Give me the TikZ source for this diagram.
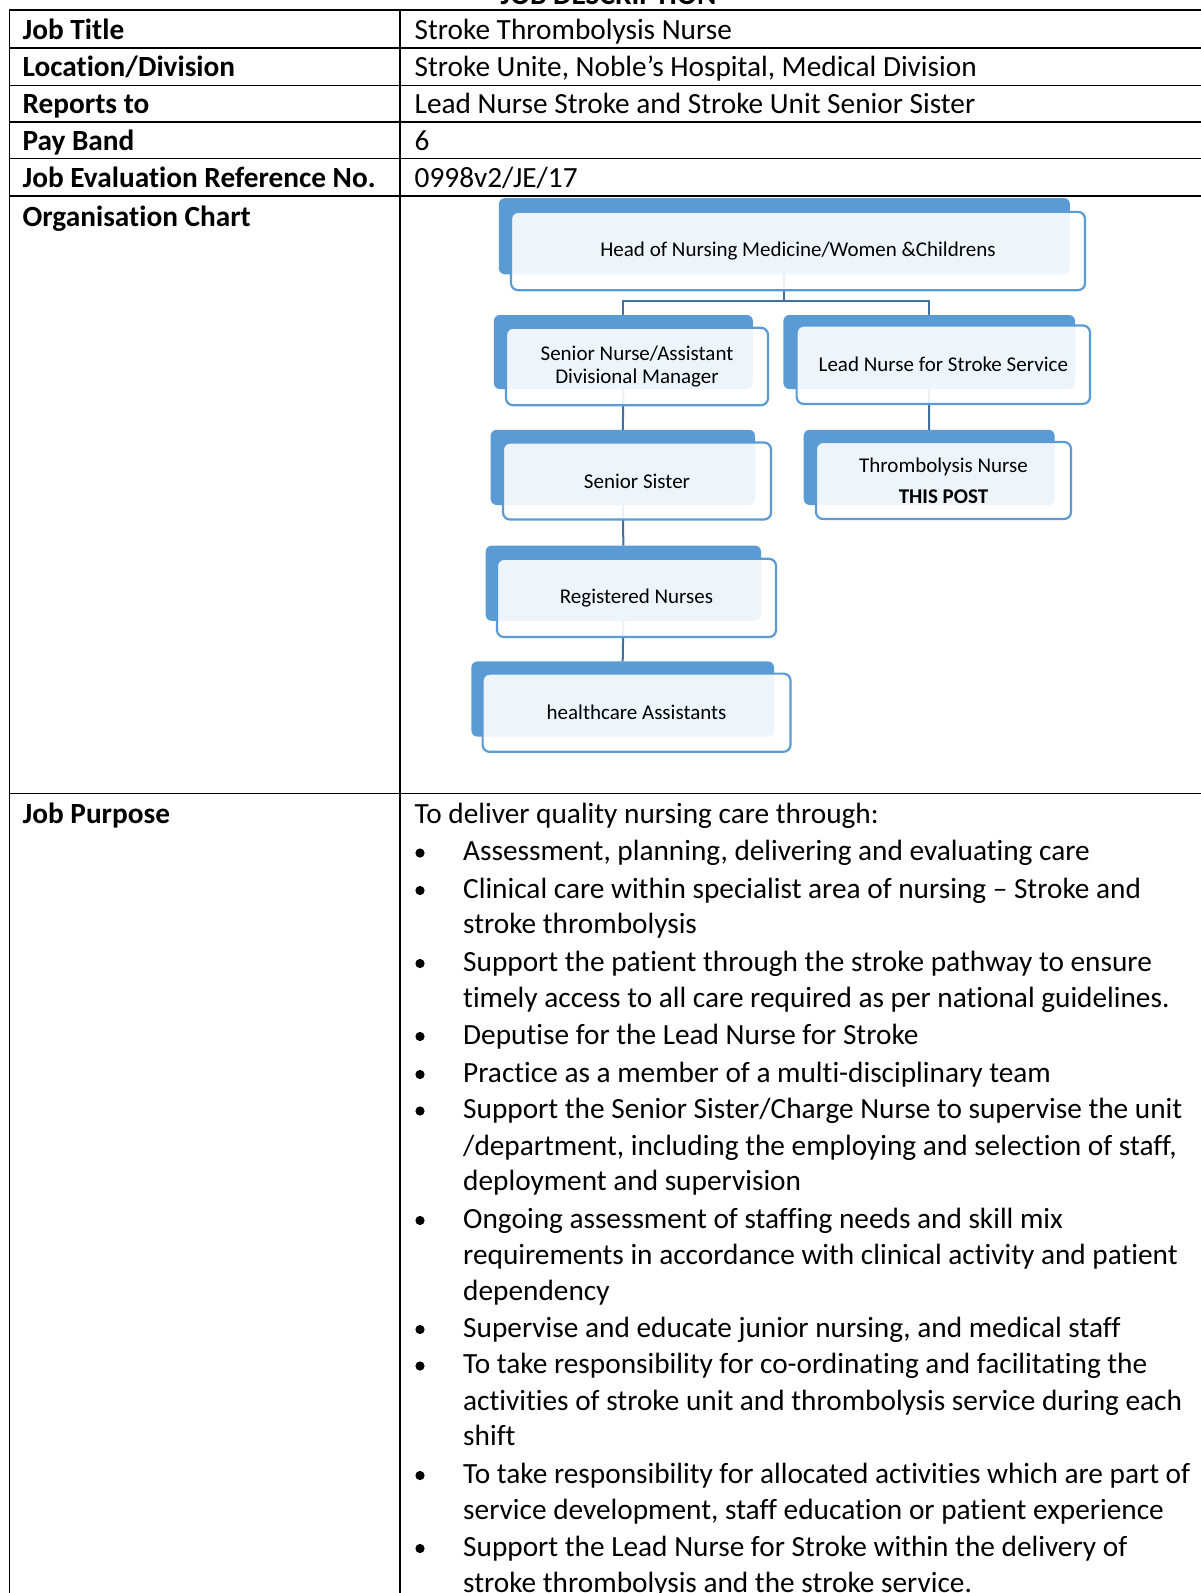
\documentclass[tikz,border=0pt]{standalone}
\usepackage{fontspec}
\setmainfont{Carlito}[Ligatures=NoCommon]
\definecolor{accent}{HTML}{5B9BD5}
\definecolor{connc}{HTML}{41719C}
\newcommand{\jdbullet}[3]{\fill (420,#2-7.5) circle[radius=4.6]; \node[val] (#1) at (463,#2) {#3};}
\newcommand{\jdcont}[3]{\node[val] (#1) at (463,#2) {#3};}
\begin{document}
\begin{tikzpicture}[x=1pt,y=-1pt,
  lbl/.style={anchor=base west, inner sep=0pt, font=\bfseries\fontsize{29.3}{35.7}\selectfont},
  val/.style={anchor=base west, inner sep=0pt, font=\fontsize{29.3}{35.7}\selectfont},
  tline/.style={line width=1.8pt, line cap=rect},
  backbox/.style={fill=accent, rounded corners=6pt, inner sep=0pt, outer sep=0pt},
  frontbox/.style={draw=accent, line width=2.2pt, fill=white, fill opacity=0.9, text opacity=1,
     rounded corners=7pt, inner sep=0pt, outer sep=0pt, align=center,
     font=\fontsize{21}{23.4}\selectfont},
  conn/.style={draw=connc, line width=2pt}
]
\useasboundingbox (0,0) rectangle (1201,1593);
\fill[white] (0,0) rectangle (1201,1593);

% title (cut off at top)
\node[anchor=base, inner sep=0pt, font=\bfseries\fontsize{29.3}{35.7}\selectfont] (title) at (608.5,4) {JOB DESCRIPTION};

% table rules
\draw[tline] (9.5,10) -- (1201,10);
\foreach \yy in {48,85.5,122,158.5,196,793.5} {\draw[tline] (9.5,\yy) -- (1201,\yy);}
\draw[tline] (9.5,10) -- (9.5,1600);
\draw[tline] (400,10) -- (400,1600);

% labels
\node[lbl] (l1) at (22.4,39.5) {Job Title};
\node[lbl] (l2) at (22.4,76.5) {Location/Division};
\node[lbl] (l3) at (22.4,113.5) {Reports to};
\node[lbl] (l4) at (22.4,150) {Pay Band};
\node[lbl] (l5) at (22.4,187) {Job Evaluation Reference No.};
\node[lbl] (l6) at (22.4,226) {Organisation Chart};
\node[lbl] (l7) at (22.4,823) {Job Purpose};

% values
\node[val] (v1) at (414.5,39.5) {Stroke Thrombolysis Nurse};
\node[val] (v2) at (414.5,76.5) {Stroke Unite, Noble’s Hospital, Medical Division};
\node[val] (v3) at (414.5,113.5) {Lead Nurse Stroke and Stroke Unit Senior Sister};
\node[val] (v4) at (414.5,150) {6};
\node[val] (v5) at (414.5,187) {0998v2/JE/17};

% org chart: back shapes
\node[backbox, minimum width=571, minimum height=76.2] (headB) at (784.4,236.2) {};
\node[backbox, minimum width=259, minimum height=74] (snB) at (623.35,352) {};
\node[backbox, minimum width=291.6, minimum height=74] (leadB) at (929.2,352) {};
\node[backbox, minimum width=264.3, minimum height=75.2] (ssB) at (622.85,467.4) {};
\node[backbox, minimum width=250.9, minimum height=75.2] (thB) at (929.15,467.4) {};
\node[backbox, minimum width=275.3, minimum height=75.2] (regB) at (623.35,583.2) {};
\node[backbox, minimum width=302.6, minimum height=75.2] (hcaB) at (622.7,699) {};

% connectors
\coordinate (bus) at (0,301);
\draw[conn] (headB.south) -- (headB.south |- bus) -| (snB.north);
\draw[conn] (headB.south |- bus) -| (leadB.north);
\draw[conn] (snB.south) -- (ssB.north);
\draw[conn] (leadB.south) -- (thB.north);
\draw[conn] (ssB.south) -- (regB.north);
\draw[conn] (regB.south) -- (hcaB.north);

% org chart: front frames with text
\node[frontbox, minimum width=574, minimum height=78.3] (head) at (798,251) {Head of Nursing Medicine/Women \&Childrens};
\node[frontbox, minimum width=262, minimum height=77.4] (sn) at (637,366.5) {Senior Nurse/Assistant\\Divisional Manager};
\node[frontbox, minimum width=293.4, minimum height=78.4] (lead) at (943.3,364.7) {Lead Nurse for Stroke Service};
\node[frontbox, minimum width=268, minimum height=77] (ss) at (637,481) {Senior Sister};
\node[frontbox, minimum width=255, minimum height=77] (th) at (943.5,480.5) {Thrombolysis Nurse\\[8pt]\textbf{THIS POST}};
\node[frontbox, minimum width=279, minimum height=78.2] (reg) at (636.5,597.9) {Registered Nurses};
\node[frontbox, minimum width=307.9, minimum height=78.2] (hca) at (636.55,712.7) {healthcare Assistants};

% job purpose
\node[val] (p0) at (414.5,823) {To deliver quality nursing care through:};
\jdbullet{p1}{860.5}{Assessment, planning, delivering and evaluating care}
\jdbullet{p2}{898}{Clinical care within specialist area of nursing – Stroke and}
\jdcont{p2b}{933.6}{stroke thrombolysis}
\jdbullet{p3}{971}{Support the patient through the stroke pathway to ensure}
\jdcont{p3b}{1007}{timely access to all care required as per national guidelines.}
\jdbullet{p4}{1044}{Deputise for the Lead Nurse for Stroke}
\jdbullet{p5}{1082}{Practice as a member of a multi-disciplinary team}
\jdbullet{p6}{1118.5}{Support the Senior Sister/Charge Nurse to supervise the unit}
\jdcont{p6b}{1155}{/department, including the employing and selection of staff,}
\jdcont{p6c}{1190.7}{deployment and supervision}
\jdbullet{p7}{1228}{Ongoing assessment of staffing needs and skill mix}
\jdcont{p7b}{1264}{requirements in accordance with clinical activity and patient}
\jdcont{p7c}{1300}{dependency}
\jdbullet{p8}{1337}{Supervise and educate junior nursing, and medical staff}
\jdbullet{p9}{1373.5}{To take responsibility for co-ordinating and facilitating the}
\jdcont{p9b}{1410}{activities of stroke unit and thrombolysis service during each}
\jdcont{p9c}{1445.7}{shift}
\jdbullet{p10}{1483}{To take responsibility for allocated activities which are part of}
\jdcont{p10b}{1519}{service development, staff education or patient experience}
\jdbullet{p11}{1556}{Support the Lead Nurse for Stroke within the delivery of}
\jdcont{p11b}{1592}{stroke thrombolysis and the stroke service.}
\end{tikzpicture}
\end{document}
